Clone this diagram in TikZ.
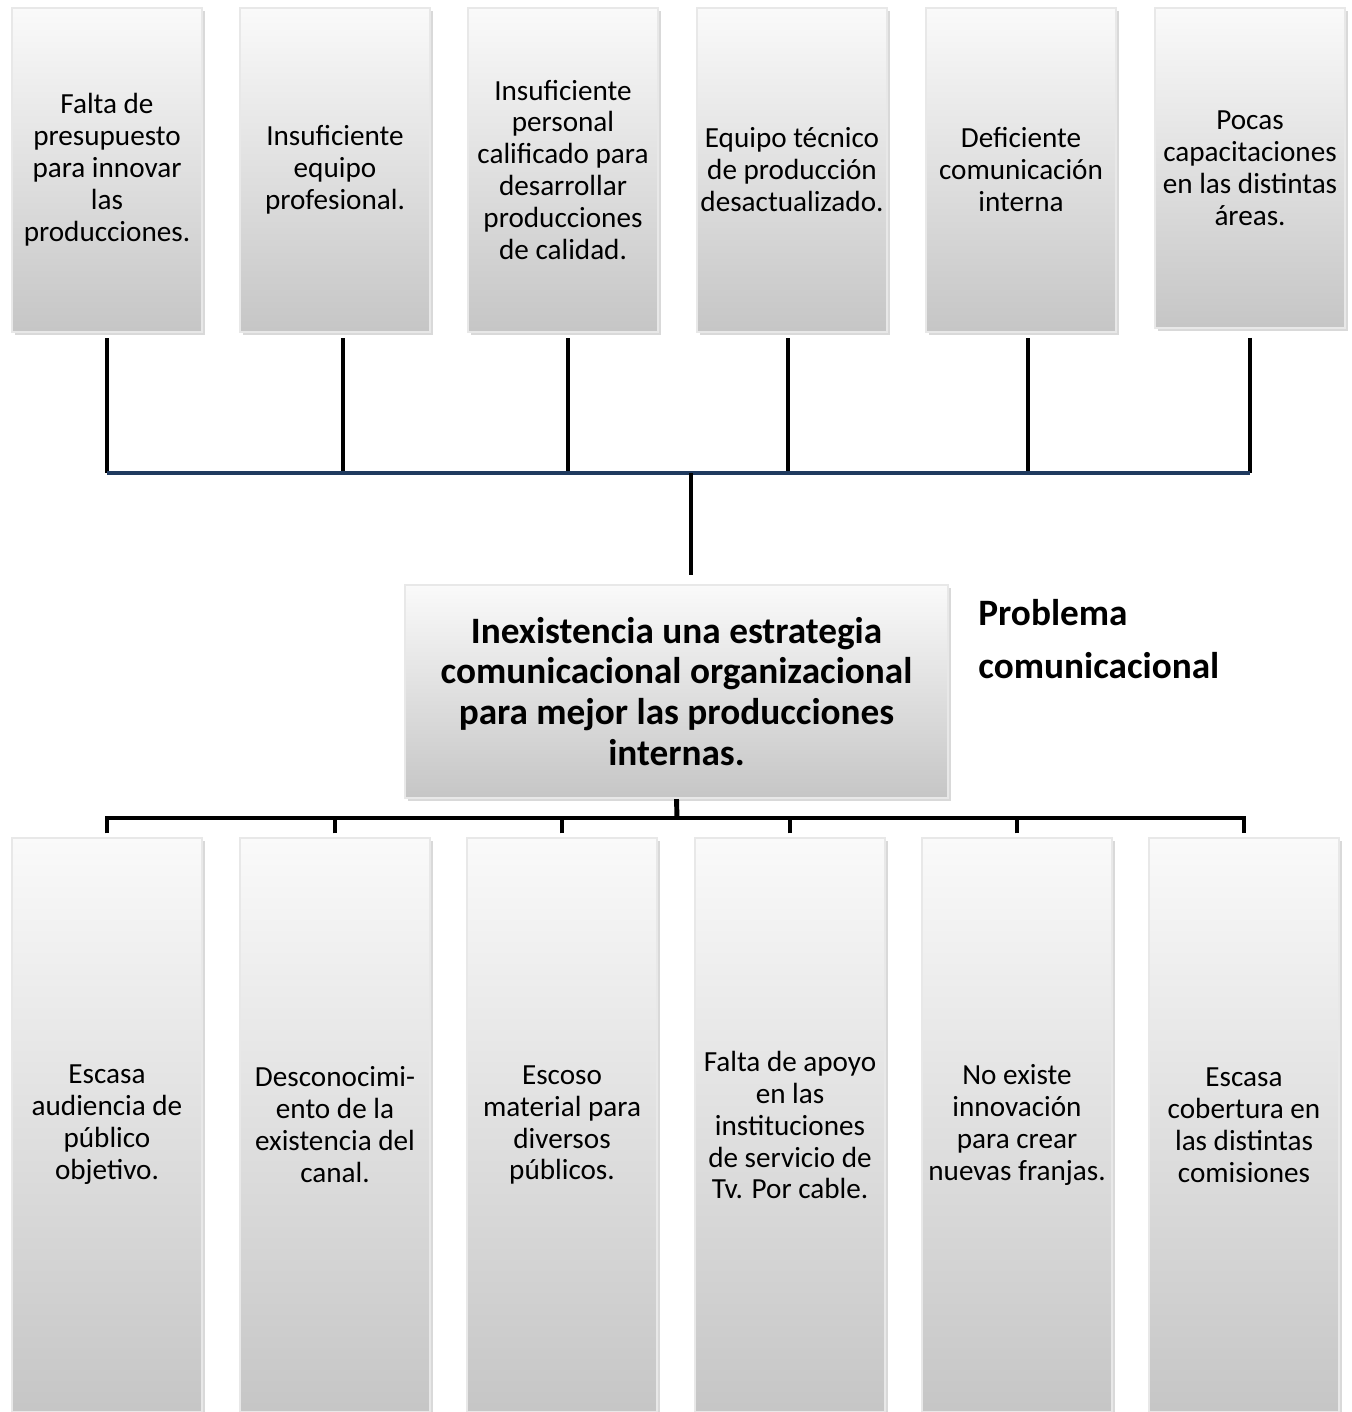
\documentclass[tikz,border=0pt]{standalone}
\usepackage{fontspec}
\setmainfont{Carlito}
\usetikzlibrary{shadows}
\definecolor{azul}{HTML}{1F3A5F}

\begin{document}
\begin{tikzpicture}
\tikzset{caja/.style={rectangle, draw=white!82!gray, line width=1.2pt, top color=white!96!gray, bottom color=gray!45, minimum width=3.8cm, align=center, inner sep=1pt, font=\fontsize{16.6}{18.2}\selectfont, drop shadow={opacity=0.3, shadow xshift=1.5pt, shadow yshift=-1.5pt}},
linea/.style={line width=2.8pt}}
\useasboundingbox (0,0) rectangle (27.02,-28.24);
\clip (0,0) rectangle (27.02,-28.24);
% causas
\node[caja, minimum height=6.48cm] (C1) at (2.14,-3.40) {Falta de\\presupuesto\\para innovar\\las\\producciones.};
\node[caja, minimum height=6.48cm] (C2) at (6.70,-3.40) {Insuficiente\\equipo\\profesional.};
\node[caja, minimum height=6.48cm] (C3) at (11.26,-3.40) {Insuficiente\\personal\\calificado para\\desarrollar\\producciones\\de calidad.};
\node[caja, minimum height=6.48cm] (C4) at (15.84,-3.40) {Equipo técnico\\de producción\\desactualizado.};
\node[caja, minimum height=6.48cm] (C5) at (20.42,-3.40) {Deficiente\\comunicación\\interna};
\node[caja, minimum height=6.40cm] (C6) at (25.00,-3.36) {Pocas\\capacitaciones\\en las distintas\\áreas.};
% problema
\node[caja, minimum width=10.86cm, minimum height=4.26cm, font=\fontsize{21.2}{23.3}\selectfont\bfseries] (P) at (13.53,-13.83) {Inexistencia una estrategia\\comunicacional organizacional\\para mejor las producciones\\internas.};
\node[anchor=north west, inner sep=0pt, align=left, font=\fontsize{21.2}{30}\selectfont\bfseries] (T) at (19.56,-11.98) {Problema\\comunicacional};
% efectos
\node[caja, minimum height=11.48cm] (E1) at (2.14,-22.50) {Escasa\\audiencia de\\público\\objetivo.};
\node[caja, minimum height=11.48cm] (E2) at (6.70,-22.50) {Desconocimi-\\ento de la\\existencia del\\canal.};
\node[caja, minimum height=11.48cm] (E3) at (11.24,-22.50) {Escoso\\material para\\diversos\\públicos.};
\node[caja, minimum height=11.48cm] (E4) at (15.80,-22.50) {Falta de apoyo\\en las\\instituciones\\de servicio de\\Tv. Por cable.};
\node[caja, minimum height=11.48cm] (E5) at (20.34,-22.50) {No existe\\innovación\\para crear\\nuevas franjas.};
\node[caja, minimum height=11.48cm] (E6) at (24.88,-22.50) {Escasa\\cobertura en\\las distintas\\comisiones};
% conectores de arriba
\coordinate (B1) at (13.82,-9.46);
\draw[linea, shorten <=3pt] (C1.south) -- (C1.south |- B1);
\draw[linea, shorten <=3pt] ([xshift=0.16cm]C2.south) -- ([xshift=0.16cm]C2.south |- B1);
\draw[linea, shorten <=3pt] ([xshift=0.10cm]C3.south) -- ([xshift=0.10cm]C3.south |- B1);
\draw[linea, shorten <=3pt] ([xshift=-0.08cm]C4.south) -- ([xshift=-0.08cm]C4.south |- B1);
\draw[linea, shorten <=3pt] ([xshift=0.14cm]C5.south) -- ([xshift=0.14cm]C5.south |- B1);
\draw[linea, shorten <=5pt] (C6.south) -- (C6.south |- B1);
\draw[azul, line width=1.8pt] (C1.south |- B1) -- (C6.south |- B1);
\draw[linea, shorten >=5pt] (B1) -- (P.north -| B1);
% conectores de abajo
\coordinate (B2) at (13.54,-16.36);
\draw[linea] (P.south) -- (B2);
\draw[linea, shorten <=2pt, shorten >=2pt] (E1.north) -- (E1.north |- B2) -- (E6.north |- B2) -- (E6.north);
\draw[linea, shorten <=2pt] (E2.north) -- (E2.north |- B2);
\draw[linea, shorten <=2pt] (E3.north) -- (E3.north |- B2);
\draw[linea, shorten <=2pt] (E4.north) -- (E4.north |- B2);
\draw[linea, shorten <=2pt] (E5.north) -- (E5.north |- B2);
\end{tikzpicture}
\end{document}
